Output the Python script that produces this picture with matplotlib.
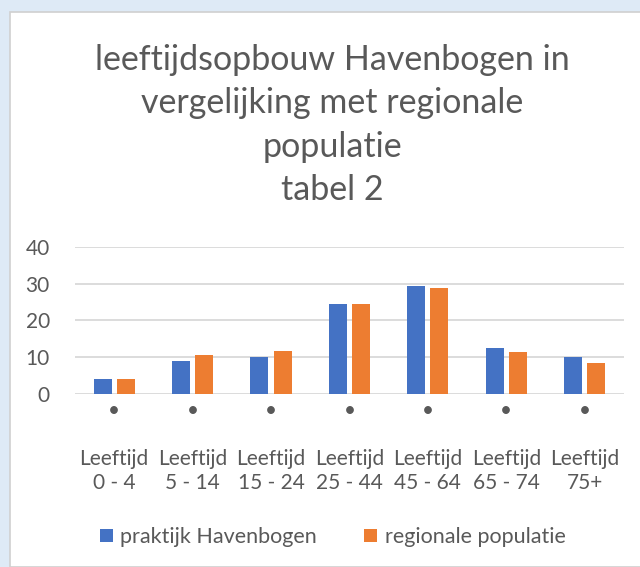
import matplotlib.pyplot as plt
from matplotlib.patches import Rectangle

categories = ["0 - 4", "5 - 14", "15 - 24", "25 - 44", "45 - 64", "65 - 74", "75+"]
praktijk = [4.0, 9.0, 10.1, 24.6, 29.4, 12.4, 10.1]
regionaal = [4.0, 10.7, 11.7, 24.5, 28.9, 11.5, 8.4]
series_names = ["praktijk Havenbogen", "regionale populatie"]
title_lines = ["leeftijdsopbouw Havenbogen in", "vergelijking met regionale", "populatie", "tabel 2"]

grey = "#595959"
blue = "#4472C4"
orange = "#ED7D31"

plt.rcParams['font.family'] = ['Lato', 'DejaVu Sans']

fig = plt.figure(figsize=(6.4, 5.67), dpi=100, facecolor="#DEEAF6")
# white chart panel with thin grey border
fig.patches.append(Rectangle((10 / 640, 0), 1, 1 - 12 / 567, transform=fig.transFigure,
                             facecolor="white", edgecolor="#D0D0D0", linewidth=1.2, zorder=-10))

ax = fig.add_axes([0.117, 0.3051, 0.858, 0.2593])
ax.set_facecolor("none")

x = list(range(len(categories)))
w = 0.23
off = 0.147
ax.bar([i - off for i in x], praktijk, width=w, color=blue, label=series_names[0], zorder=3)
ax.bar([i + off for i in x], regionaal, width=w, color=orange, label=series_names[1], zorder=3)

ax.set_xlim(-0.5, len(categories) - 0.5)
ax.set_ylim(0, 40)
ax.set_yticks([0, 10, 20, 30, 40])
ax.grid(axis='y', color="#D9D9D9", linewidth=1.3, zorder=0)
ax.tick_params(axis='y', length=0, labelsize=15, labelcolor=grey, pad=18)
ax.set_xticks(x)
ax.set_xticklabels(["•\n\nLeeftijd\n" + c for c in categories], fontsize=15, color=grey,
                   linespacing=1.25)
ax.tick_params(axis='x', length=0, pad=5)
for s in ax.spines.values():
    s.set_visible(False)

ys = [60, 103, 147, 190]
for line, y in zip(title_lines, ys):
    fig.text(332 / 640, 1 - y / 567, line, ha='center', va='center', fontsize=24.5, color=grey)

fig.legend(loc='center', bbox_to_anchor=(0.52, 1 - 537 / 567), ncol=2, frameon=False,
           fontsize=15.5, labelcolor=grey, handlelength=0.6, handleheight=0.6,
           handletextpad=0.35, columnspacing=2.2)

fig.savefig("out.png", dpi=100, facecolor=fig.get_facecolor())
